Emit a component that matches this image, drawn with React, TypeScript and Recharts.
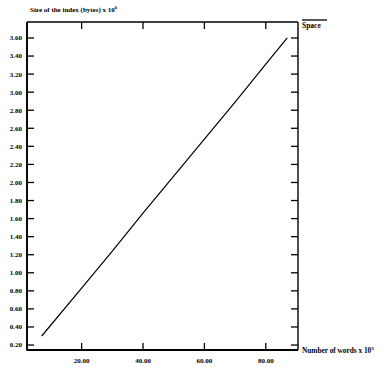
import React from 'react';
import { LineChart, Line, XAxis, YAxis, ReferenceLine } from 'recharts';

const words = [7, 20, 30, 40, 50, 60, 70, 80, 87];
const indexSize = [0.3, 0.83, 1.24, 1.66, 2.07, 2.48, 2.89, 3.31, 3.6];
const xTicks = [20, 40, 60, 80];
const yTicks = [0.2, 0.4, 0.6, 0.8, 1.0, 1.2, 1.4, 1.6, 1.8, 2.0, 2.2, 2.4, 2.6, 2.8, 3.0, 3.2, 3.4, 3.6];
const xDomain = [2.2, 90.5];
const yDomain = [0.145, 3.777];
const seriesName = 'Space';
const yLabel = 'Size of the index (bytes) x 10';
const yLabelExp = '6';
const xLabel = 'Number of words x 10';
const xLabelExp = '3';

const data = words.map((w, i) => ({ words: w, size: indexSize[i] }));

const FONT = '"Liberation Serif", "DejaVu Serif", serif';
const W = 384;
const H = 367;
const M_TOP = 22;
const M_RIGHT = 86;
const LEFT_W = 27;
const BOTTOM_H = 17;
const PLOT_TOP = M_TOP;
const PLOT_RIGHT = W - M_RIGHT;
const PLOT_LEFT = LEFT_W;
const PLOT_BOTTOM = H - BOTTOM_H;
const TICK_LEN = 6;
const OFF = 8; // default tickSize (6) + tickMargin (2)

const LeftTick = (props: any) => {
  const { x, y, payload } = props;
  const ax = Number(x) + OFF;
  return (
    <g>
      <path d={`M${PLOT_LEFT + 1},${y}h${TICK_LEN}`} stroke="#000" strokeWidth={1.3} fill="none" />
      <path d={`M${PLOT_RIGHT},${y}h${-(TICK_LEN + 1)}`} stroke="#000" strokeWidth={1.3} fill="none" />
      <text x={ax - 5} y={y} dy="0.35em" textAnchor="end" fontFamily={FONT} fontWeight="bold" fontSize={7} fill="#000">
        {Number(payload.value).toFixed(2)}
      </text>
    </g>
  );
};

const BottomTick = (props: any) => {
  const { x, y, payload } = props;
  const ay = Number(y) - OFF;
  return (
    <g>
      <path d={`M${x},${PLOT_BOTTOM - 1}v${-TICK_LEN}`} stroke="#000" strokeWidth={1.3} fill="none" />
      <path d={`M${x},${PLOT_TOP}v${TICK_LEN + 1}`} stroke="#000" strokeWidth={1.3} fill="none" />
      <text x={x} y={ay + 13} textAnchor="middle" fontFamily={FONT} fontWeight="bold" fontSize={7} fill="#000">
        {Number(payload.value).toFixed(2)}
      </text>
    </g>
  );
};

const YTitleAndLegend = () => (
  <g>
    <path d={`M${PLOT_LEFT},${PLOT_TOP}V${PLOT_BOTTOM}H${PLOT_RIGHT}`} stroke="#000" strokeWidth={1.6} fill="none" />
    <text x={30} y={12} fontFamily={FONT} fontWeight="bold" fontSize={7} fill="#000">
      {yLabel}
      <tspan dy={-3} fontSize={5}>{yLabelExp}</tspan>
    </text>
    <path d="M302,20H327" stroke="#000" strokeWidth={1.3} fill="none" />
    <text x={302} y={28} fontFamily={FONT} fontWeight="bold" fontSize={7.5} fill="#000">
      {seriesName}
    </text>
  </g>
);

const XTitle = () => (
  <text x={302} y={353} fontFamily={FONT} fontWeight="bold" fontSize={7.3} fill="#000">
    {xLabel}
    <tspan dy={-3} fontSize={5}>{xLabelExp}</tspan>
  </text>
);

const hiddenTickLine = { stroke: 'none' };

export default function App() {
  return (
    <div style={{ position: 'absolute', left: 0, top: 0, background: '#fff' }}>
      <LineChart
        width={W}
        height={H}
        data={data}
        margin={{ top: M_TOP, right: M_RIGHT, bottom: 0, left: 0 }}
      >
        <XAxis
          dataKey="words"
          type="number"
          domain={xDomain}
          ticks={xTicks}
          height={BOTTOM_H}
          tickLine={hiddenTickLine}
          axisLine={{ stroke: '#000', strokeWidth: 1.8 }}
          tick={BottomTick}
          interval={0}
          label={{ content: () => <XTitle /> }}
        />
        <YAxis
          type="number"
          domain={yDomain}
          ticks={yTicks}
          width={LEFT_W}
          tickLine={hiddenTickLine}
          axisLine={{ stroke: '#000', strokeWidth: 1.6 }}
          tick={LeftTick}
          interval={0}
          label={{ content: () => <YTitleAndLegend /> }}
        />
        <ReferenceLine x={xDomain[1]} stroke="#000" strokeWidth={1.4} />
        <ReferenceLine y={yDomain[1]} stroke="#000" strokeWidth={1.4} />
        <Line
          type="linear"
          dataKey="size"
          name={seriesName}
          stroke="#000"
          strokeWidth={1.2}
          dot={false}
          isAnimationActive={false}
        />
      </LineChart>
    </div>
  );
}
